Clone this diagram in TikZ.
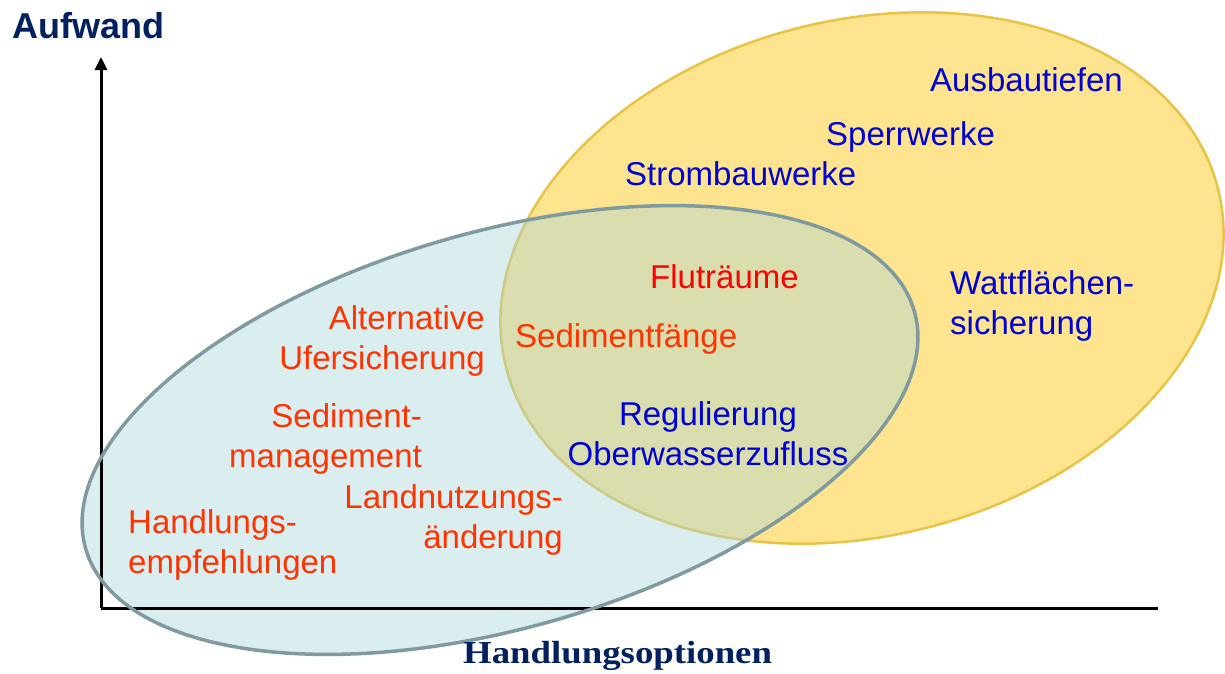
\documentclass[tikz,border=0pt]{standalone}
\usepackage{fontspec}
\setmainfont{Liberation Sans}[BoldFont={Liberation Sans Bold}]
\newfontfamily\sansboldfont{Liberation Sans Bold}
\newfontfamily\serifboldfont{Liberation Serif Bold}
\usetikzlibrary{arrows.meta}
\definecolor{ylwfill}{RGB}{255,228,143}
\definecolor{ylwline}{RGB}{232,195,70}
\definecolor{bluefill}{RGB}{167,214,219}
\definecolor{blueline}{RGB}{127,155,160}
\definecolor{txtred}{RGB}{255,0,0}
\definecolor{txtorange}{RGB}{255,51,0}
\definecolor{txtblue}{RGB}{0,0,210}
\definecolor{navy}{RGB}{0,32,96}
\begin{document}
\begin{tikzpicture}[x=1pt,y=-1pt,
  lbl/.style={inner sep=0pt, font=\fontsize{33}{40}\selectfont},
  orangelbl/.style={lbl, text=txtorange},
  redlbl/.style={lbl, text=txtred},
  bluelbl/.style={lbl, text=txtblue},
  axisline/.style={line width=3pt, black},
  yellowell/.style={ylwline, line width=2.5pt},
  blueell/.style={blueline, line width=3.5pt}]
\useasboundingbox (0,0) rectangle (1225,673);
% ellipses (fills)
\fill[ylwfill] (862,278) ellipse [x radius=367pt, y radius=258pt, rotate=14];
\draw[yellowell] (862,278) ellipse [x radius=367pt, y radius=258pt, rotate=14];
\fill[bluefill, fill opacity=0.42] (500,430) ellipse [x radius=431pt, y radius=198pt, rotate=16];
% axes
\coordinate (O) at (101,608);
\coordinate (ytop) at (101,57);
\coordinate (xend) at (1158,608);
\draw[axisline, -{Triangle[length=13pt,width=12pt]}] (O) -- (ytop);
\draw[axisline] (O) -- (xend);
\draw[blueell] (500,430) ellipse [x radius=431pt, y radius=198pt, rotate=16];
% axis labels
\node[anchor=base west, inner sep=0pt, text=navy, font=\sansboldfont\fontsize{36}{40}\selectfont] (ylab) at (12,38) {Aufwand};
\node[anchor=base west, inner sep=0pt, text=navy, font=\serifboldfont\fontsize{32}{36}\selectfont] (xlab) at (463,663) {\scalebox{1.15}[1]{Handlungsoptionen}};
% labels
\node[bluelbl, anchor=base west] (aus) at (930,91) {Ausbautiefen};
\node[bluelbl, anchor=base west] (sperr) at (826,145) {Sperrwerke};
\node[bluelbl, anchor=base west] (strom) at (625,185) {Strombauwerke};
\node[redlbl, anchor=base west] (flut) at (650,288) {Fluträume};
\node[bluelbl, text width=230pt, align=left, anchor=base west] (watt) at (950,294) {Wattflächen-\\sicherung};
\node[orangelbl, text width=240pt, align=right, anchor=base east] (alt) at (485,329) {Alternative\\Ufersicherung};
\node[orangelbl, anchor=base west] (sedf) at (515,347) {Sedimentfänge};
\node[bluelbl, text width=320pt, align=center, anchor=base] (reg) at (708,425) {Regulierung\\Oberwasserzufluss};
\node[orangelbl, text width=240pt, align=right, anchor=base east] (sedm) at (422,427) {Sediment-\\management};
\node[orangelbl, text width=240pt, align=right, anchor=base east] (land) at (563,508) {Landnutzungs-\\änderung};
\node[orangelbl, text width=240pt, align=left, anchor=base west] (hand) at (128,533) {Handlungs-\\empfehlungen};
\end{tikzpicture}
\end{document}
